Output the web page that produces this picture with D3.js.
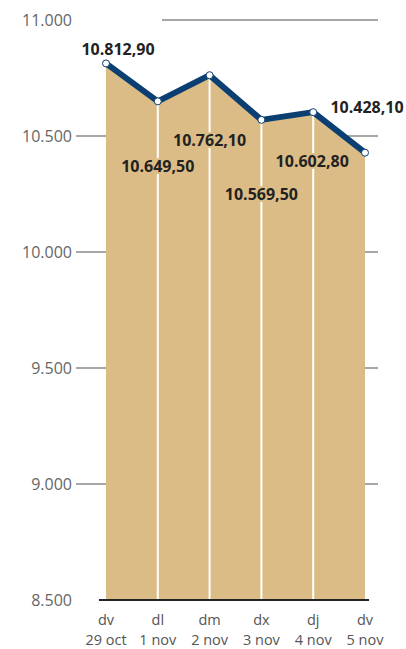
<html>
<head>
<script src="https://d3js.org/d3.v7.min.js"></script>
<style>
  body { margin: 0; background: #fff; }
  svg text { font-family: "Open Sans", sans-serif; }
</style>
</head>
<body>
<svg id="chart" width="406" height="649"></svg>
<script>
// ---------------------------------------------
// data
// ---------------------------------------------
var days   = ["dv", "dl", "dm", "dx", "dj", "dv"];
var dates  = ["29 oct", "1 nov", "2 nov", "3 nov", "4 nov", "5 nov"];
var values = [10812.9, 10649.5, 10762.1, 10569.5, 10602.8, 10428.1];
var yTicks = [8500, 9000, 9500, 10000, 10500, 11000];

// label placement relative to each point (layout only)
var labelDx = [12, 0, 0, 0, -1, 2];
var labelDy = [-8, 71, 71, 80, 55, -40];

var loc = d3.formatLocale({ decimal: ",", thousands: ".", grouping: [3], currency: ["", ""] });
var fmtVal = loc.format(",.2f");
var fmtTick = loc.format(",.0f");

var svg = d3.select("#chart");

var x = d3.scalePoint()
	.domain(d3.range(values.length))
	.range([106, 365]);

var y = d3.scaleLinear()
	.domain([8500, 11000])
	.range([600, 20]);

// grid lines (behind the area)
svg.append("g").selectAll("line").data(yTicks.filter(function(d){ return d > 8500; }))
	.enter().append("line")
	.attr("x1", function(d){ return d === 11000 ? 162 : 76; })
	.attr("x2", 378)
	.attr("y1", function(d){ return y(d); })
	.attr("y2", function(d){ return y(d); })
	.attr("stroke", "#8a8a8a")
	.attr("stroke-width", 1.5);

// tick labels
svg.append("g").selectAll("text").data(yTicks)
	.enter().append("text")
	.attr("x", 72)
	.attr("y", function(d){ return y(d) + 6; })
	.attr("text-anchor", "end")
	.attr("fill", "#666")
	.style("font-size", "16px")
	.text(function(d){ return fmtTick(d); });

// area
var area = d3.area()
	.x(function(d, i){ return x(i); })
	.y0(y(8500))
	.y1(function(d){ return y(d); });

svg.append("path")
	.datum(values)
	.attr("d", area)
	.attr("fill", "#dcbc86");

// white drop lines at the inner points
svg.append("g").selectAll("line").data(values.slice(1, -1))
	.enter().append("line")
	.attr("x1", function(d, i){ return x(i + 1); })
	.attr("x2", function(d, i){ return x(i + 1); })
	.attr("y1", function(d){ return y(d); })
	.attr("y2", y(8500))
	.attr("stroke", "#fff")
	.attr("stroke-width", 2);

// baseline
svg.append("line")
	.attr("x1", 99).attr("x2", 369)
	.attr("y1", y(8500)).attr("y2", y(8500))
	.attr("stroke", "#222")
	.attr("stroke-width", 2);

// line
var line = d3.line()
	.x(function(d, i){ return x(i); })
	.y(function(d){ return y(d); });

svg.append("path")
	.datum(values)
	.attr("d", line)
	.attr("fill", "none")
	.attr("stroke", "#0b3f72")
	.attr("stroke-width", 6)
	.attr("stroke-linejoin", "round");

svg.append("g").selectAll("circle").data(values)
	.enter().append("circle")
	.attr("cx", function(d, i){ return x(i); })
	.attr("cy", function(d){ return y(d); })
	.attr("r", 3.5)
	.attr("fill", "#fff")
	.attr("stroke", "#0b3f72")
	.attr("stroke-width", 1);

// value labels
svg.append("g").selectAll("text").data(values)
	.enter().append("text")
	.attr("x", function(d, i){ return x(i) + labelDx[i]; })
	.attr("y", function(d, i){ return y(d) + labelDy[i]; })
	.attr("text-anchor", "middle")
	.attr("fill", "#222")
	.attr("stroke", function(d, i){ return labelDy[i] > 0 ? "#dcbc86" : "none"; })
	.attr("stroke-width", 4)
	.style("paint-order", "stroke")
	.style("font-size", "16px")
	.style("font-weight", "bold")
	.text(function(d){ return fmtVal(d); });

// x labels, two rows
svg.append("g").selectAll("text").data(days)
	.enter().append("text")
	.attr("x", function(d, i){ return x(i); })
	.attr("y", 625)
	.attr("text-anchor", "middle")
	.attr("fill", "#555")
	.style("font-size", "14.5px")
	.text(function(d){ return d; });

svg.append("g").selectAll("text").data(dates)
	.enter().append("text")
	.attr("x", function(d, i){ return x(i); })
	.attr("y", 645)
	.attr("text-anchor", "middle")
	.attr("fill", "#555")
	.style("font-size", "14.5px")
	.text(function(d){ return d; });
</script>
</body>
</html>
